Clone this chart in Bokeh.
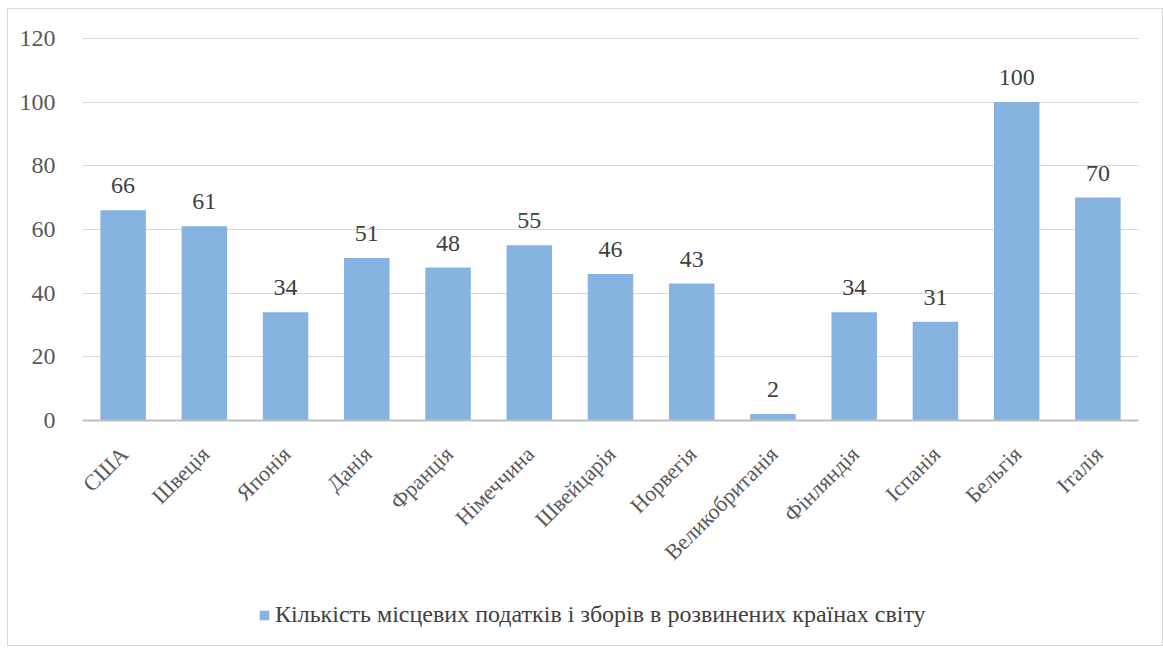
from bokeh.plotting import figure
from bokeh.models import ColumnDataSource, LabelSet, Legend, LegendItem, Range1d, FactorRange, FixedTicker, Span
from bokeh.embed import file_html
from bokeh.resources import INLINE
import math

countries = ["США", "Швеція", "Японія", "Данія", "Франція", "Німеччина", "Швейцарія",
             "Норвегія", "Великобританія", "Фінляндія", "Іспанія", "Бельгія", "Італія"]
values = [66, 61, 34, 51, 48, 55, 46, 43, 2, 34, 31, 100, 70]
series_name = "Кількість місцевих податків і зборів в розвинених країнах світу"
y_ticks = [0, 20, 40, 60, 80, 100, 120]

FONT = "Liberation Serif"
BAR = "#86B3DF"

src = ColumnDataSource(dict(x=countries, y=values, lbl=[str(v) for v in values],
                            base=[0] * len(values)))

p = figure(width=1156, height=638, x_range=FactorRange(*countries, range_padding=0),
           y_range=Range1d(-68.2, 120.6), output_backend="svg", toolbar_location=None,
           x_axis_location=None,
           min_border_left=74, min_border_right=26, min_border_top=27, min_border_bottom=10)
p.styles = {"margin-left": "7px", "margin-top": "8px", "border": "1px solid #d9d9d9"}
p.outline_line_color = None
p.background_fill_color = "white"
p.border_fill_color = "white"

r = p.vbar(x="x", top="y", bottom="base", width=0.56, source=src, fill_color=BAR, line_color=None)

# value labels
p.add_layout(LabelSet(x="x", y="y", text="lbl", source=src, y_offset=17,
                      text_align="center", text_baseline="alphabetic",
                      text_font=FONT, text_font_size="24px", text_color="#404040"))

# category labels (rotated)
p.add_layout(LabelSet(x="x", y="base", text="x", source=src, x_offset=1, y_offset=-30,
                      angle=math.pi / 4, text_align="right", text_baseline="middle",
                      text_font=FONT, text_font_size="22px", text_color="#595959"))

p.add_layout(Span(location=0, dimension="width", line_color="#bfbfbf", line_width=2))

p.yaxis.ticker = FixedTicker(ticks=y_ticks)
p.yaxis.axis_line_color = None
p.yaxis.major_tick_line_color = None
p.yaxis.minor_tick_line_color = None
p.yaxis.major_label_standoff = 21
p.yaxis.major_label_text_font = FONT
p.yaxis.major_label_text_font_size = "24px"
p.yaxis.major_label_text_color = "#595959"

p.xgrid.grid_line_color = None
p.ygrid.grid_line_color = "#d9d9d9"
p.ygrid.grid_line_width = 1

legend = Legend(items=[LegendItem(label=series_name, renderers=[r])],
                location=(176, 9), orientation="horizontal",
                glyph_width=12, glyph_height=12, label_standoff=5,
                padding=0, margin=0, border_line_color=None, background_fill_alpha=0,
                label_text_font=FONT, label_text_font_size="24px", label_text_color="#404040")
p.add_layout(legend, "center")

open("out.html", "w").write(file_html(p, INLINE))
